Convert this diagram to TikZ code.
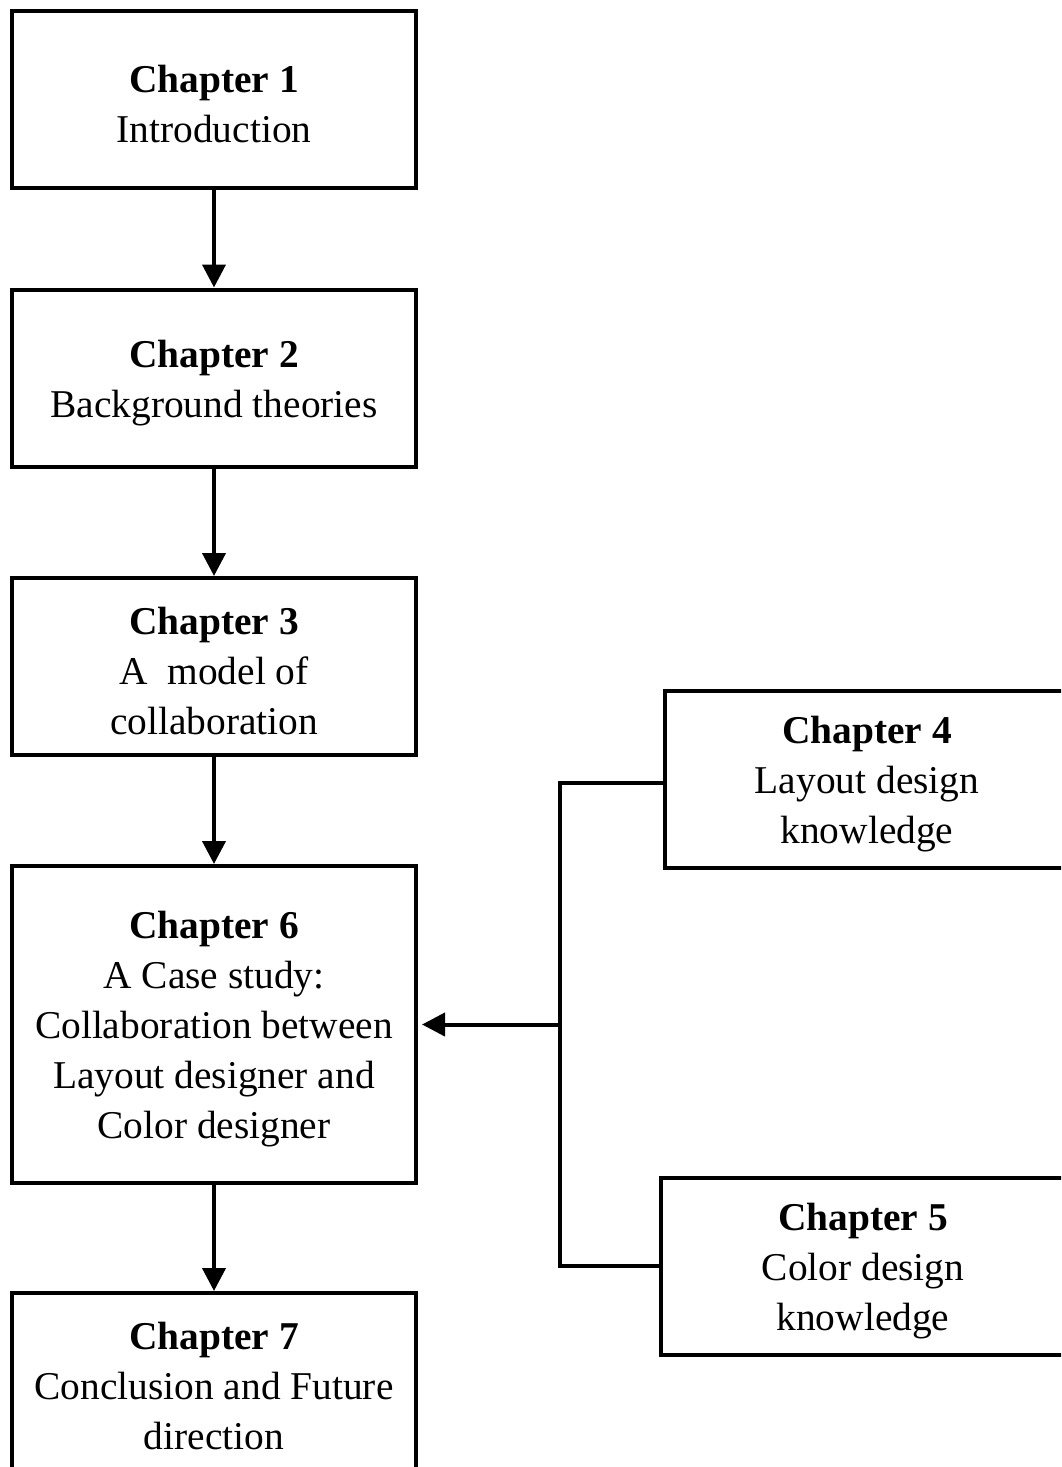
\documentclass[tikz,border=0pt]{standalone}
\usepackage{fontspec}
\setmainfont{Liberation Serif}
\usetikzlibrary{arrows.meta,positioning}
\begin{document}
\begin{tikzpicture}[x=0.5pt,y=-0.5pt,
  chapbox/.style={draw,line width=2pt,minimum width=202pt,minimum height=88.5pt,inner sep=0pt},
  chaptext/.style={align=center,inner sep=0pt,yshift=-2.5pt,font=\fontsize{19.7}{25}\selectfont},
  link/.style={line width=2pt},
  flow/.style={line width=2pt,-{Triangle[length=11.5pt,width=11.5pt]}}]
\useasboundingbox (0,0) rectangle (1061,1467);
\clip (0,0) rectangle (1061,1467);
\node[chapbox,label={[chaptext]center:{\textbf{Chapter 1}\\Introduction}}] (c1) at (214,99.5) {};
\node[chapbox,label={[chaptext]center:{\textbf{Chapter 2}\\Background theories}}] (c2) at (214,378) {};
\node[chapbox,label={[chaptext]center:{\textbf{Chapter 3}\\A\ \ model of\\collaboration}}] (c3) at (214,666.5) {};
\node[chapbox,minimum height=158.5pt,
  label={[chaptext]center:{\textbf{Chapter 6}\\A Case study:\\Collaboration between\\Layout designer and\\Color designer}}]
  (c6) at (214,1024.5) {};
\node[chapbox,label={[chaptext]center:{\textbf{Chapter 7}\\Conclusion and Future\\direction}}] (c7) at (214,1381.5) {};
\node[chapbox,label={[chaptext]center:{\textbf{Chapter 4}\\Layout design\\knowledge}}] (c4) at (867,779) {};
\node[chapbox,label={[chaptext]center:{\textbf{Chapter 5}\\Color design\\knowledge}}] (c5) at (863,1266) {};
\coordinate (jn) at (560,1024.5);
\draw[flow] (c1) -- (c2);
\draw[flow] (c2) -- (c3);
\draw[flow] (c3) -- (c6);
\draw[flow] (c6) -- (c7);
\draw[link] ([yshift=-2pt]c4.west) -| (jn) |- (c5.west);
\draw[flow,shorten >=2pt] (jn) -- (c6.east);
\end{tikzpicture}
\end{document}
